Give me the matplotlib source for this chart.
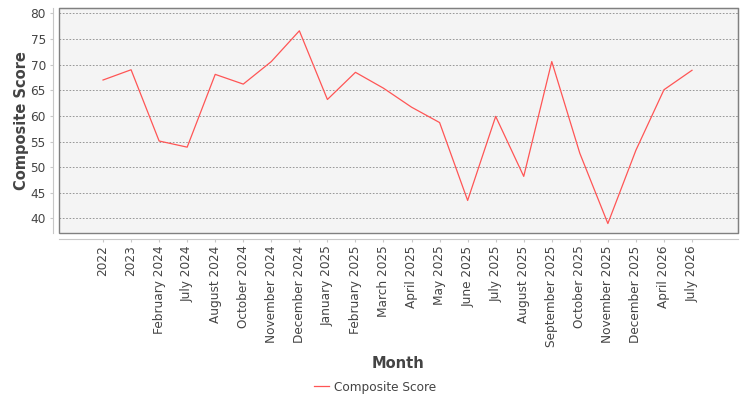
import matplotlib
matplotlib.use('Agg')
import matplotlib.pyplot as plt
from matplotlib.patches import Rectangle

months = ['2022', '2023', 'February 2024', 'July 2024', 'August 2024', 'October 2024',
          'November 2024', 'December 2024', 'January 2025', 'February 2025', 'March 2025',
          'April 2025', 'May 2025', 'June 2025', 'July 2025', 'August 2025',
          'September 2025', 'October 2025', 'November 2025', 'December 2025',
          'April 2026', 'July 2026']
scores = [67.0, 69.0, 55.1, 53.9, 68.1, 66.2, 70.6, 76.6, 63.2, 68.5, 65.4,
          61.7, 58.7, 43.5, 59.9, 48.2, 70.6, 52.7, 39.0, 53.3, 65.1, 68.9]

fig = plt.figure(figsize=(7.5, 4), dpi=100)
ax = fig.add_axes([59/750, 1 - 233/400, (738 - 59)/750, (233 - 8)/400])
ax.set_facecolor('#f4f4f4')

x = list(range(len(months)))
ax.plot(x, scores, color='#ff5555', linewidth=0.9, label='Composite Score')

ax.set_xlim(-1.57, len(months) - 1 + 1.64)
ax.set_ylim(37.15, 81.05)
ax.set_yticks(range(40, 81, 5))
ax.set_xticks(x)
ax.set_xticklabels(months)

ax.grid(axis='y', color='#888888', linestyle=(0, (2, 2)), linewidth=0.6)
ax.set_axisbelow(True)

for s in ['top', 'right']:
    ax.spines[s].set_color('#808080')
for s in ['left', 'bottom']:
    ax.spines[s].set_position(('outward', 4))
    ax.spines[s].set_color('#c8c8c8')
    ax.spines[s].set_linewidth(0.8)
ax.add_patch(Rectangle((0, 0), 1, 1, transform=ax.transAxes, fill=False,
                       edgecolor='#808080', linewidth=1.0, clip_on=False, zorder=5))

ax.tick_params(axis='both', direction='out', length=2, color='#c8c8c8',
               labelcolor='#444444', labelsize=8.7)
ax.tick_params(axis='x', pad=3, labelrotation=90)

# axis titles placed like the reference
fig.text(22/750, 1 - 121/400, 'Composite Score', rotation=90, ha='center', va='center',
         fontsize=10.5, fontweight='bold', color='#444444')
fig.text(398/750, 1 - 363/400, 'Month', ha='center', va='center',
         fontsize=10.5, fontweight='bold', color='#444444')

fig.legend(loc='center', bbox_to_anchor=(375/750, 1 - 387/400), frameon=False,
           fontsize=8.7, labelcolor='#444444', handlelength=1.3, handletextpad=0.4)

fig.savefig('out.png', dpi=100)
